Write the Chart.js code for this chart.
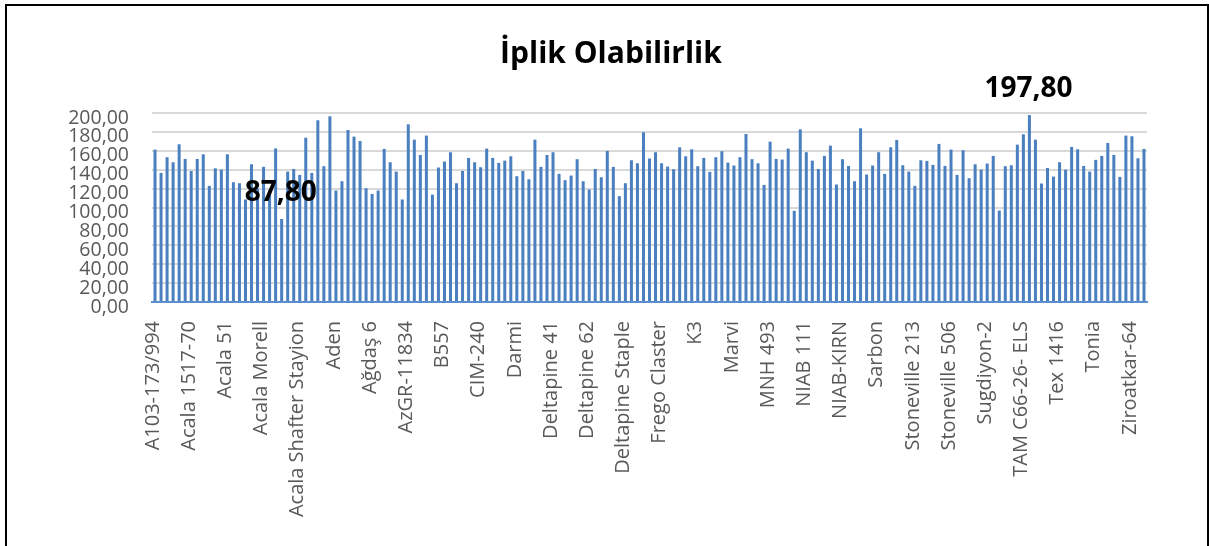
<!DOCTYPE html>
<html lang="tr">
<head>
    <meta charset="UTF-8">
    <title>İplik Olabilirlik</title>
    <script src="https://cdn.jsdelivr.net/npm/chart.js"></script>
    <style>
        body { margin: 0; background: #fff; }
        #frame {
            position: absolute; left: 5px; top: 4px;
            width: 1204px; height: 600px;
            box-sizing: border-box;
            border: 2px solid #000;
        }
        #chart { position: absolute; left: 0; top: 0; }
    </style>
</head>
<body>
    <div id="frame"></div>
    <canvas id="chart" width="1209" height="546"></canvas>

    <script>
        // etiketi görünen çeşitler (her 6 çeşitte bir)
        const tickLabels = [
            'A103-173/994', 'Acala 1517-70', 'Acala 51', 'Acala Morell', 'Acala Shafter Stayion',
            'Aden', 'Ağdaş 6', 'AzGR-11834', 'B557', 'CIM-240', 'Darmi', 'Deltapine 41',
            'Deltapine 62', 'Deltapine Staple', 'Frego Claster', 'K3', 'Marvi', 'MNH 493',
            'NIAB 111', 'NIAB-KIRN', 'Sarbon', 'Stoneville 213', 'Stoneville 506', 'Sugdiyon-2',
            'TAM C66-26- ELS', 'Tex 1416', 'Tonia', 'Ziroatkar-64'
        ];
        const labelStep = 6;

        // iplik olabilirlik değerleri (165 çeşit)
        const values = [
            161.3, 136.6, 153.2, 147.9, 166.9, 151.4, 138.7, 151.4, 156.3, 122.9,
            141.5, 140.1, 156.3, 126.8, 125.7, 108.5, 145.8, 120.0, 143.0, 118.0,
            162.5, 87.8, 138.0, 140.8, 134.5, 173.9, 136.6, 192.3, 143.7, 196.5,
            118.0, 127.8, 182.0, 175.0, 170.4, 120.4, 114.4, 118.0, 162.0, 147.9,
            138.0, 108.5, 188.0, 171.8, 155.6, 176.1, 113.7, 142.3, 148.6, 158.5,
            125.7, 138.7, 152.5, 147.9, 142.6, 162.3, 152.5, 147.2, 149.6, 154.2,
            133.1, 138.7, 129.9, 171.8, 143.0, 155.6, 158.5, 135.6, 128.9, 133.8,
            151.1, 127.8, 119.0, 140.8, 132.0, 159.9, 143.0, 112.0, 125.7, 150.0,
            146.8, 179.6, 151.8, 158.5, 146.8, 143.3, 140.5, 163.7, 154.2, 161.6,
            143.7, 152.5, 137.7, 153.2, 159.5, 147.5, 144.4, 153.2, 177.8, 151.1,
            146.8, 123.9, 169.7, 151.4, 150.7, 162.3, 96.5, 182.7, 158.5, 149.6,
            140.8, 154.6, 165.5, 124.3, 151.1, 144.0, 127.8, 183.8, 134.9, 144.4,
            158.5, 135.6, 163.7, 171.5, 144.7, 138.0, 122.9, 150.0, 149.3, 145.1,
            167.3, 144.0, 161.3, 134.5, 160.6, 131.0, 145.8, 140.1, 146.5, 154.6,
            96.8, 143.7, 144.7, 166.5, 177.5, 197.8, 171.8, 125.4, 141.9, 132.7,
            147.9, 140.1, 164.1, 161.6, 144.0, 138.0, 150.4, 154.6, 168.3, 155.6,
            132.4, 176.1, 175.4, 152.1, 162.0
        ];

        const categories = values.map((v, i) => i % labelStep === 0 ? tickLabels[i / labelStep] : '');

        const fontFamily = '"Open Sans", "Noto Sans", sans-serif';
        const fmt = v => v.toFixed(2).replace('.', ',');

        // en yüksek ve en düşük değerin üstüne etiket yaz
        const extremeLabels = {
            id: 'extremeLabels',
            afterDatasetsDraw(chart) {
                const data = chart.data.datasets[0].data;
                const maxI = data.indexOf(Math.max(...data));
                const minI = data.indexOf(Math.min(...data));
                const bars = chart.getDatasetMeta(0).data;
                const ctx = chart.ctx;
                ctx.save();
                ctx.font = 'bold 28px ' + fontFamily;
                ctx.fillStyle = '#000';
                ctx.textAlign = 'center';
                ctx.textBaseline = 'alphabetic';
                [minI, maxI].forEach(i => {
                    ctx.fillText(fmt(data[i]), bars[i].x - 1, bars[i].y - 18);
                });
                ctx.restore();
            }
        };

        // başlık Excel'deki gibi grafiğin ortasında değil biraz sola kayık duruyor
        const titleShift = {
            id: 'titleShift',
            afterLayout(chart) {
                const t = chart.titleBlock;
                t.left = 75;
                t.right = chart.chartArea.right;
            }
        };

        new Chart(document.getElementById('chart'), {
            type: 'bar',
            data: {
                labels: categories,
                datasets: [{
                    data: values,
                    backgroundColor: '#4A80C0',
                    borderWidth: 0,
                    barPercentage: 0.5,
                    categoryPercentage: 1.0
                }]
            },
            options: {
                responsive: false,
                animation: false,
                devicePixelRatio: 1,
                layout: { padding: { left: 0, right: 62, top: 0, bottom: 0 } },
                plugins: {
                    legend: { display: false },
                    tooltip: { enabled: false },
                    title: {
                        display: true,
                        text: 'İplik Olabilirlik',
                        color: '#000',
                        font: { family: fontFamily, size: 30, weight: 'bold' },
                        padding: { top: 36, bottom: 41 }
                    }
                },
                scales: {
                    x: {
                        grid: { display: false, drawTicks: false },
                        border: { display: true, color: '#5B8FCB', width: 2, dash: [3, 1] },
                        ticks: {
                            autoSkip: false,
                            maxRotation: 90,
                            minRotation: 90,
                            padding: 19,
                            labelOffset: -2,
                            color: '#595959',
                            font: { family: fontFamily, size: 20 },
                            callback: function (value) {
                                const l = this.getLabelForValue(value);
                                return l === '' ? null : l;
                            }
                        },
                        afterFit: scale => { scale.height = 244; }
                    },
                    y: {
                        min: 0,
                        max: 200,
                        grid: { color: '#D9D9D9', lineWidth: 2, drawTicks: false },
                        border: { display: false },
                        ticks: {
                            stepSize: 20,
                            autoSkip: false,
                            padding: 23,
                            labelOffset: 5,
                            color: '#595959',
                            font: { family: fontFamily, size: 19.5 },
                            callback: v => fmt(v)
                        },
                        afterFit: scale => { scale.width = 152; }
                    }
                }
            },
            plugins: [extremeLabels, titleShift]
        });
    </script>
</body>
</html>
